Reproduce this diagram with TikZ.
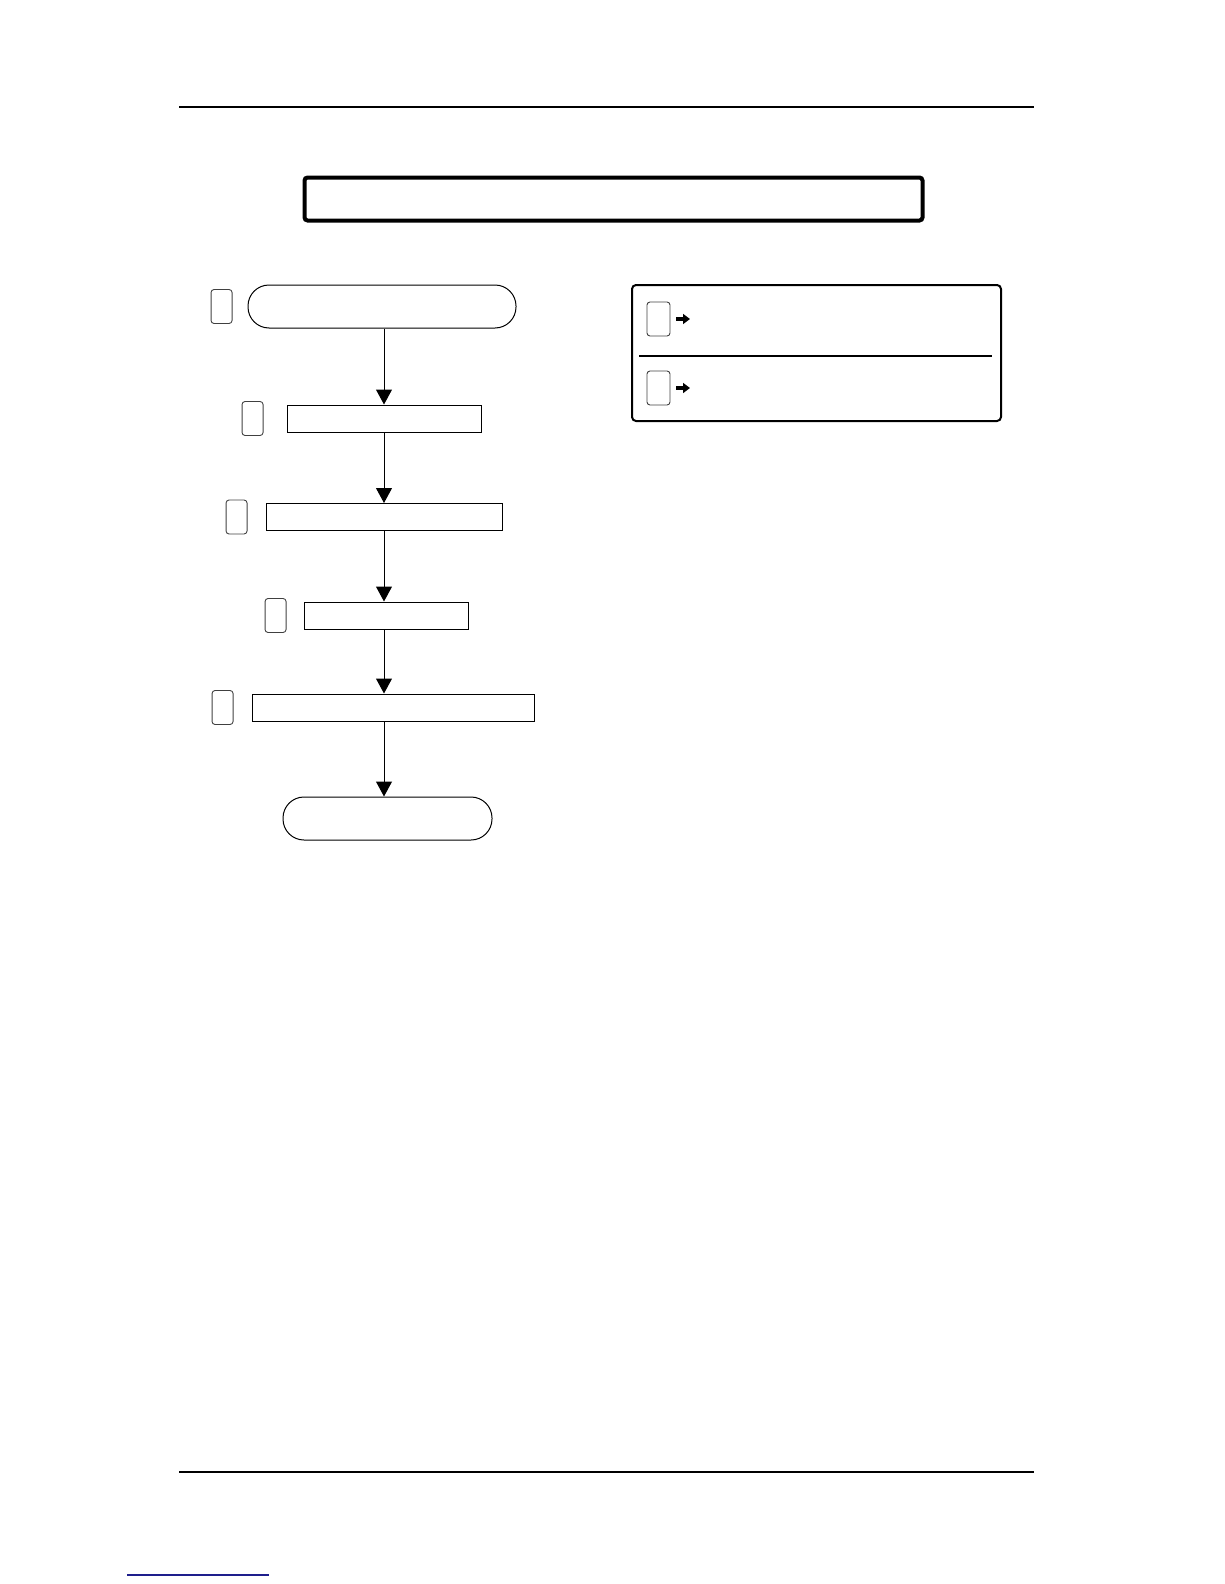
\documentclass[tikz,border=0pt]{standalone}
\usepackage{xcolor}
\usetikzlibrary{positioning,arrows.meta}

\definecolor{linkblue}{RGB}{30,30,140}

\begin{document}
\begin{tikzpicture}[x=1pt,y=-1pt,
    terminal/.style={draw, line width=1pt, rounded corners=21pt, minimum width=#1, minimum height=43pt, inner sep=0pt},
    stepbox/.style={draw, line width=1pt, minimum width=#1, minimum height=27pt, inner sep=0pt},
    tag/.style={draw=black!75, line width=0.9pt, rounded corners=3pt, minimum width=21pt, minimum height=34pt, inner sep=0pt},
    flow/.style={line width=1pt, -{Triangle[width=16pt,length=15pt]}},
    legarrow/.style={line width=3.5pt, -{Triangle[width=10pt,length=7pt]}},
    rule/.style={line width=2.5pt}]
  \useasboundingbox (0,0) rectangle (1224,1584);

  % page rules
  \coordinate (rt1) at (179,107);
  \coordinate (rt2) at (1034,107);
  \coordinate (rb1) at (179,1472);
  \coordinate (rb2) at (1034,1472);
  \draw[rule] (rt1) -- (rt2);
  \draw[rule] (rb1) -- (rb2);
  \coordinate (ln1) at (127,1575);
  \coordinate (ln2) at (269,1575);
  \draw[linkblue, line width=1.5pt] (ln1) -- (ln2);

  % title
  \node (title) [draw, line width=4pt, rounded corners=3pt, minimum width=618pt, minimum height=43pt, inner sep=0pt] at (613.5,199) {};

  % flow
  \node (start) [terminal=268pt] at (382,306.5) {};
  \node (box1) [stepbox=194pt] at (384,418.5) {};
  \node (box2) [stepbox=236pt] at (384,517) {};
  \node (box3) [stepbox=164pt] at (386,615.5) {};
  \node (box4) [stepbox=282pt] at (393,707.5) {};
  \node (stop) [terminal=209pt] at (387.5,818.5) {};

  \node (tag0) [tag, left=15pt of start] {};
  \node (tag1) [tag, left=23pt of box1] {};
  \node (tag2) [tag, left=18pt of box2] {};
  \node (tag3) [tag, left=17pt of box3] {};
  \node (tag4) [tag, left=18pt of box4] {};

  \coordinate (spine) at (384,0);
  \draw[flow] (spine |- start.south) -- (spine |- box1.north);
  \draw[flow] (spine |- box1.south) -- (spine |- box2.north);
  \draw[flow] (spine |- box2.south) -- (spine |- box3.north);
  \draw[flow] (spine |- box3.south) -- (spine |- box4.north);
  \draw[flow] (spine |- box4.south) -- (spine |- stop.north);

  % legend
  \node (legend) [draw, line width=2pt, rounded corners=4pt, minimum width=369pt, minimum height=136pt, inner sep=0pt] at (816.5,353) {};
  \coordinate (sep1) at (639,356);
  \coordinate (sep2) at (992,356);
  \draw[line width=2pt] (sep1) -- (sep2);
  \node (legA) [tag, minimum width=23pt] at (658.5,319) {};
  \node (legB) [tag, minimum width=23pt] at (658.5,388) {};
  \coordinate (endA) at (690,319);
  \coordinate (endB) at (690,388);
  \draw[legarrow] ([xshift=6pt]legA.east) -- (endA);
  \draw[legarrow] ([xshift=6pt]legB.east) -- (endB);
\end{tikzpicture}
\end{document}
